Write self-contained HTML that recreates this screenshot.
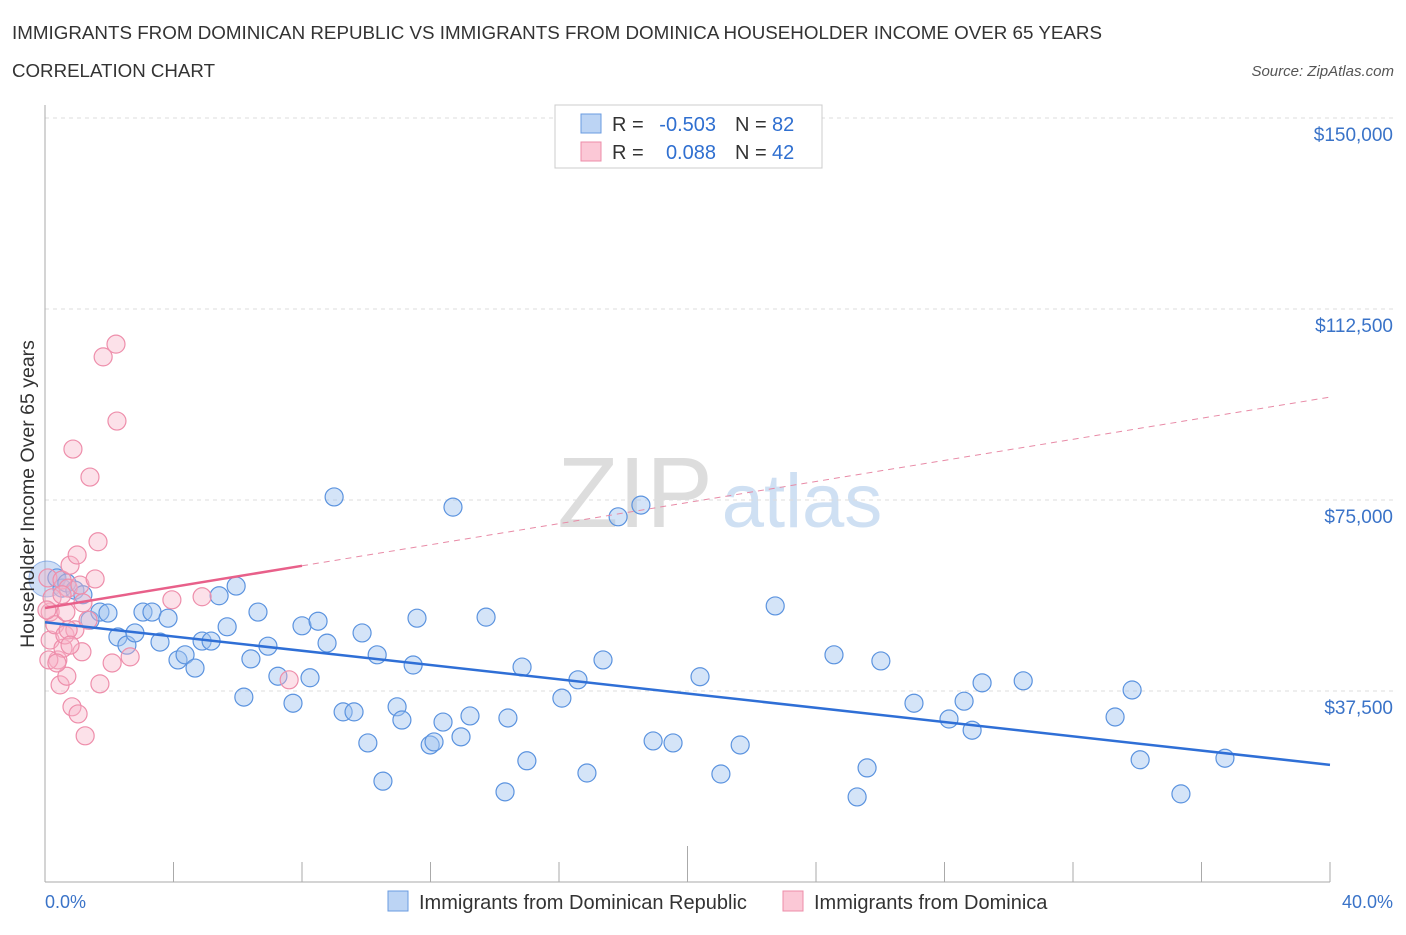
<!DOCTYPE html>
<html><head><meta charset="utf-8"><style>
body{margin:0;background:#fff;font-family:"Liberation Sans",sans-serif;}
svg text{font-family:"Liberation Sans",sans-serif;}
</style></head><body>
<svg width="1406" height="930" xmlns="http://www.w3.org/2000/svg">
<text x="12" y="39" font-size="18" fill="#333" textLength="1090" lengthAdjust="spacingAndGlyphs">IMMIGRANTS FROM DOMINICAN REPUBLIC VS IMMIGRANTS FROM DOMINICA HOUSEHOLDER INCOME OVER 65 YEARS</text>
<text x="12" y="77" font-size="18" fill="#333" textLength="203" lengthAdjust="spacingAndGlyphs">CORRELATION CHART</text>
<text x="1394" y="76" font-size="15" fill="#555" font-style="italic" text-anchor="end">Source: ZipAtlas.com</text>
<g>
<text x="635" y="527" font-size="100" fill="#ddd" font-family="Liberation Serif" text-anchor="middle">ZIP</text>
<text x="802" y="527" font-size="76" fill="#cfe0f3" text-anchor="middle">atlas</text>
</g>
<g id="grid"></g>
<g id="axes"></g>
<g id="pts"></g>
<g id="lines"></g>
<text transform="translate(34,494) rotate(-90)" font-size="19.5" fill="#333" text-anchor="middle">Householder Income Over 65 years</text>
<text x="45" y="908" font-size="18" fill="#3a73c8">0.0%</text>
<text x="1393" y="908" font-size="18" fill="#3a73c8" text-anchor="end">40.0%</text>
<g>
<rect x="555" y="105" width="267" height="63" fill="#fff" stroke="#ccc"/>
<rect x="581" y="114" width="20" height="19" fill="#bcd4f4" stroke="#6a9be0"/>
<rect x="581" y="142" width="20" height="19" fill="#fbc8d6" stroke="#ec8ca8"/>
<text x="612" y="131" font-size="20" fill="#333">R =</text>
<text x="716" y="131" font-size="20" fill="#2f6fd0" text-anchor="end">-0.503</text>
<text x="735" y="131" font-size="20" fill="#333">N =</text>
<text x="772" y="131" font-size="20" fill="#2f6fd0">82</text>
<text x="612" y="159" font-size="20" fill="#333">R =</text>
<text x="716" y="159" font-size="20" fill="#2f6fd0" text-anchor="end">0.088</text>
<text x="735" y="159" font-size="20" fill="#333">N =</text>
<text x="772" y="159" font-size="20" fill="#2f6fd0">42</text>
</g>
<g>
<rect x="388" y="891" width="20" height="20" fill="#bcd4f4" stroke="#6a9be0"/>
<text x="419" y="909" font-size="20" fill="#333">Immigrants from Dominican Republic</text>
<rect x="783" y="891" width="20" height="20" fill="#fbc8d6" stroke="#ec8ca8"/>
<text x="814" y="909" font-size="20" fill="#333">Immigrants from Dominica</text>
</g>
</svg>
<script>
const yTicks=[37500,75000,112500,150000];
const yTickLabels=["$37,500","$75,000","$112,500","$150,000"];
const blueX=[0.37,0.53,0.68,0.93,1.18,1.40,1.71,1.96,2.27,2.55,2.80,3.05,3.33,3.58,3.83,4.14,4.36,4.67,4.89,5.17,5.42,5.67,5.95,6.19,6.41,6.63,6.94,7.25,7.72,8.00,8.25,8.50,8.78,9.00,9.28,9.62,9.87,10.05,10.34,10.52,10.96,11.11,11.46,11.58,11.99,12.11,12.39,12.70,12.95,13.23,13.73,14.41,14.32,14.85,15.00,16.09,16.59,16.87,17.37,17.84,18.55,18.93,19.55,20.39,21.04,21.64,22.73,24.56,25.28,25.59,26.02,27.05,28.14,28.61,28.86,29.17,30.45,33.31,33.84,34.09,35.36,36.73];
const blueY=[59.7,57.7,58.7,57.3,56.4,51.4,53.0,52.8,48.1,46.5,48.9,53.0,53.0,47.1,51.8,43.6,44.6,42.0,47.3,47.3,56.2,50.1,58.1,36.3,43.8,53.0,46.3,40.4,35.1,50.3,40.1,51.2,46.9,75.6,33.4,33.4,48.9,27.3,44.6,19.8,34.4,31.8,42.6,51.8,26.9,27.5,31.4,73.6,28.5,32.6,52.0,32.2,17.7,42.2,23.8,36.1,39.7,21.4,43.6,71.7,74.0,27.7,27.3,40.3,21.2,26.9,54.2,44.6,16.7,22.4,43.4,35.1,32.0,35.5,29.8,39.1,39.5,32.4,37.7,24.0,17.3,24.3];
const pinkX=[0.09,0.16,0.22,0.16,0.31,0.40,0.47,0.53,0.56,0.62,0.68,0.72,0.78,0.84,0.87,0.93,1.00,1.03,1.09,1.15,1.18,1.25,1.34,1.40,1.56,1.65,1.71,1.81,2.09,2.21,2.24,2.65,3.95,4.89,7.60,0.06,0.12,0.37,0.53,0.65,0.72,0.78];
const pinkY=[59.7,53.0,55.8,47.5,50.5,43.6,38.7,59.3,45.9,48.5,40.4,57.7,62.2,34.4,85.0,49.5,64.2,33.0,58.3,45.2,54.8,28.7,51.4,79.5,59.5,66.8,38.9,103.1,43.0,105.6,90.5,44.2,55.4,56.0,39.7,53.4,43.6,43.0,56.4,53.0,49.5,46.5];
const blueTrend=[51.0,23.0];
const pinkTrend=[53.8,95.2];
const pinkSolidEnd=8.0;
const NS="http://www.w3.org/2000/svg";
const sx=p=>45+p/40*1285;
const sy=v=>882-v/37500*191;
function mk(t,a,parent){const e=document.createElementNS(NS,t);for(const k in a)e.setAttribute(k,a[k]);document.getElementById(parent).appendChild(e);return e;}
yTicks.forEach((t,i)=>{
 const g=mk('line',{x1:45,x2:1393,y1:sy(t),y2:sy(t),stroke:'#ddd','stroke-dasharray':'4,4'},'grid');
 
 
 const l=mk('text',{x:1393,y:sy(t)+23,'font-size':19,fill:'#3a73c8','text-anchor':'end'},'grid');
 l.textContent=yTickLabels[i];
 
 
});
const ya=mk('line',{x1:45,x2:45,y1:105,y2:882,stroke:'#aaa'},'axes');


const xa=mk('line',{x1:45,x2:1330,y1:882,y2:882,stroke:'#aaa'},'axes');


for(let i=0;i<=10;i++){
 const t=mk('line',{x1:sx(i*4),x2:sx(i*4),y1:882,y2:i==5?846:862,stroke:'#aaa'},'axes');
 
 
}
const big=mk('circle',{cx:sx(0.06),cy:sy(59500),r:18,fill:'rgba(150,185,235,0.45)',stroke:'rgba(90,140,220,0.6)'},'pts');


blueX.forEach((x,i)=>{
 const c=mk('circle',{cx:sx(x),cy:sy(blueY[i]*1000),r:9,fill:'rgba(160,195,240,0.45)',stroke:'#5b93df','stroke-width':1.2},'pts');
 
 
});
pinkX.forEach((x,i)=>{
 const c=mk('circle',{cx:sx(x),cy:sy(pinkY[i]*1000),r:9,fill:'rgba(248,180,200,0.4)',stroke:'#ee8eab','stroke-width':1.2},'pts');
 
 
});
const bl=mk('line',{x1:sx(0),y1:sy(blueTrend[0]*1000),x2:sx(40),y2:sy(blueTrend[1]*1000),stroke:'#2f6fd6','stroke-width':2.5},'lines');


const pAt=x=>pinkTrend[0]+(pinkTrend[1]-pinkTrend[0])*x/40;
const ps=mk('line',{x1:sx(0),y1:sy(pinkTrend[0]*1000),x2:sx(pinkSolidEnd),y2:sy(pAt(pinkSolidEnd)*1000),stroke:'#e8608a','stroke-width':2.5},'lines');


const pd=mk('line',{x1:sx(pinkSolidEnd),y1:sy(pAt(pinkSolidEnd)*1000),x2:sx(40),y2:sy(pinkTrend[1]*1000),stroke:'#e88aa6','stroke-width':1,'stroke-dasharray':'6,5'},'lines');


</script>
</body></html>
